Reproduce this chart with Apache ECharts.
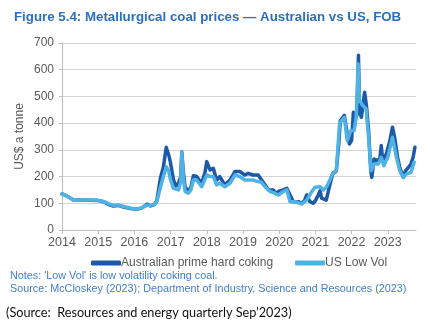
<!DOCTYPE html>
<html>
<head>
<meta charset="utf-8">
<script src="https://cdn.jsdelivr.net/npm/echarts@6/dist/echarts.min.js"></script>
<style>
  html, body { margin: 0; padding: 0; background: #ffffff; }
  #chart { width: 430px; height: 326px; }
</style>
</head>
<body>
<div id="chart"></div>
<script>
// Metallurgical coal prices, US$ a tonne, FOB (time in decimal years)
const ausYears = [
  2014.00, 2014.10, 2014.20, 2014.30, 2014.50, 2014.75, 2015.00, 2015.15, 2015.30, 2015.40,
  2015.55, 2015.70, 2015.90, 2016.05, 2016.20, 2016.35, 2016.45, 2016.55, 2016.62, 2016.68,
  2016.72, 2016.80, 2016.88, 2016.95, 2017.00, 2017.08, 2017.15, 2017.22, 2017.28, 2017.31,
  2017.35, 2017.40, 2017.49, 2017.56, 2017.63, 2017.72, 2017.80, 2017.86, 2017.95, 2018.00,
  2018.05, 2018.09, 2018.18, 2018.27, 2018.36, 2018.50, 2018.64, 2018.78, 2018.91, 2019.05,
  2019.14, 2019.28, 2019.42, 2019.50, 2019.61, 2019.70, 2019.75, 2019.84, 2019.90, 2019.98,
  2020.11, 2020.21, 2020.30, 2020.39, 2020.53, 2020.62, 2020.70, 2020.76, 2020.85, 2020.94,
  2021.00, 2021.08, 2021.13, 2021.17, 2021.30, 2021.40, 2021.48, 2021.58, 2021.65, 2021.69,
  2021.80, 2021.88, 2021.94, 2022.00, 2022.05, 2022.10, 2022.15, 2022.19, 2022.22, 2022.27,
  2022.31, 2022.36, 2022.41, 2022.47, 2022.53, 2022.56, 2022.62, 2022.69, 2022.78, 2022.82,
  2022.86, 2022.96, 2023.06, 2023.13, 2023.19, 2023.27, 2023.33, 2023.43, 2023.49, 2023.56,
  2023.64, 2023.70, 2023.75
];
const ausPrices = [
  135, 130, 122, 113, 112, 111, 110, 106, 95, 90,
  92, 86, 80, 78, 82, 97, 90, 95, 110, 160,
  195, 235, 310, 280, 250, 187, 165, 175, 200, 292,
  220, 162, 144, 160, 203, 200, 185, 175, 215, 256,
  250, 225, 231, 187, 200, 169, 187, 219, 219, 206,
  212, 206, 206, 190, 169, 150, 144, 150, 137, 144,
  150, 156, 131, 106, 106, 100, 110, 131, 106, 100,
  110, 131, 147, 119, 112, 169, 210, 222, 330, 410,
  429, 360, 322, 335, 441, 447, 429, 654, 447, 422,
  460, 516, 466, 372, 222, 197, 266, 260, 266, 316,
  260, 285, 335, 385, 347, 272, 235, 197, 222, 232,
  247, 272, 310
];

const usYears = [
  2014.00, 2014.10, 2014.20, 2014.30, 2014.50, 2014.75, 2015.00, 2015.15, 2015.30, 2015.40,
  2015.55, 2015.70, 2015.90, 2016.05, 2016.20, 2016.35, 2016.45, 2016.55, 2016.62, 2016.70,
  2016.80, 2016.88, 2016.95, 2017.00, 2017.08, 2017.22, 2017.28, 2017.31, 2017.35, 2017.40,
  2017.49, 2017.56, 2017.63, 2017.72, 2017.86, 2018.00, 2018.09, 2018.18, 2018.27, 2018.36,
  2018.50, 2018.64, 2018.78, 2018.91, 2019.05, 2019.14, 2019.28, 2019.42, 2019.50, 2019.61,
  2019.75, 2019.84, 2019.98, 2020.11, 2020.21, 2020.30, 2020.45, 2020.62, 2020.76, 2020.90,
  2020.99, 2021.13, 2021.22, 2021.31, 2021.40, 2021.48, 2021.58, 2021.67, 2021.80, 2021.88,
  2021.98, 2022.07, 2022.13, 2022.18, 2022.22, 2022.31, 2022.40, 2022.47, 2022.54, 2022.62,
  2022.74, 2022.82, 2022.89, 2023.00, 2023.13, 2023.24, 2023.33, 2023.43, 2023.52, 2023.64,
  2023.73
];
const usPrices = [
  135, 130, 122, 113, 112, 112, 111, 107, 98, 93,
  94, 88, 82, 78, 83, 93, 92, 96, 105, 150,
  200, 237, 220, 187, 156, 150, 180, 290, 200, 144,
  138, 150, 187, 187, 162, 206, 200, 200, 169, 175,
  162, 175, 206, 200, 187, 187, 187, 181, 180, 162,
  144, 140, 131, 144, 150, 106, 106, 97, 112, 144,
  160, 162, 150, 162, 187, 212, 225, 400, 422, 335,
  372, 372, 422, 622, 485, 466, 454, 347, 222, 247,
  247, 272, 241, 272, 347, 272, 222, 197, 210, 216,
  254
];

const seriesNames = ['Australian prime hard coking', 'US Low Vol'];
const yearTicks = [2014, 2015, 2016, 2017, 2018, 2019, 2020, 2021, 2022, 2023];

const FONT = '"Liberation Sans", Arial, sans-serif';
const AXIS_GREY = '#595959';
const DARK_BLUE = '#1c59a8';
const LIGHT_BLUE = '#4fb2e4';

function pairs(xs, ys) {
  return xs.map((x, i) => [x, ys[i]]);
}

const chart = echarts.init(document.getElementById('chart'), null, { renderer: 'canvas' });

chart.setOption({
  backgroundColor: '#ffffff',
  animation: false,
  title: {
    text: 'Figure 5.4: Metallurgical coal prices \u2014 Australian vs US, FOB',
    left: 9,
    top: 6,
    textStyle: {
      fontFamily: FONT,
      fontSize: 13.3,
      fontWeight: 'bold',
      color: '#2a70c2'
    }
  },
  grid: { left: 62, right: 14, top: 43, bottom: 96 },
  legend: {
    data: seriesNames,
    left: 86,
    top: 252,
    icon: 'roundRect',
    itemWidth: 30,
    itemHeight: 5,
    itemGap: 22,
    textStyle: { fontFamily: FONT, fontSize: 12, color: AXIS_GREY, padding: [0, 0, 0, -5] }
  },
  xAxis: {
    type: 'value',
    min: yearTicks[0],
    max: 2023.78,
    interval: 1,
    axisLine: { lineStyle: { color: '#bfbfbf' } },
    axisTick: { show: true, length: 4, lineStyle: { color: '#bfbfbf' } },
    splitLine: { show: false },
    axisLabel: {
      showMaxLabel: false,
      fontFamily: FONT,
      fontSize: 12.5,
      color: AXIS_GREY,
      margin: 6,
      formatter: v => (yearTicks.indexOf(v) >= 0 ? String(v) : '')
    }
  },
  yAxis: {
    type: 'value',
    min: 0,
    max: 700,
    interval: 100,
    name: 'US$ a tonne',
    nameLocation: 'middle',
    nameGap: 36,
    nameMoveOverlap: false,
    nameTextStyle: { fontFamily: FONT, fontSize: 12, color: AXIS_GREY },
    axisLine: { show: true, lineStyle: { color: '#bfbfbf' } },
    axisTick: { show: true, length: 3, lineStyle: { color: '#bfbfbf' } },
    splitLine: { lineStyle: { color: '#d4d4d4', width: 1 } },
    axisLabel: { fontFamily: FONT, fontSize: 12, color: AXIS_GREY, margin: 8 }
  },
  series: [
    {
      name: seriesNames[0],
      type: 'line',
      data: pairs(ausYears, ausPrices),
      showSymbol: false,
      symbol: 'none',
      lineStyle: { color: DARK_BLUE, width: 3.5, join: 'round', cap: 'round' },
      itemStyle: { color: DARK_BLUE },
      z: 2
    },
    {
      name: seriesNames[1],
      type: 'line',
      data: pairs(usYears, usPrices),
      showSymbol: false,
      symbol: 'none',
      lineStyle: { color: LIGHT_BLUE, width: 3.5, join: 'round', cap: 'round' },
      itemStyle: { color: LIGHT_BLUE },
      z: 3
    }
  ],
  graphic: [
    {
      type: 'text',
      left: 10,
      top: 271,
      style: {
        text: "Notes: 'Low Vol' is low volatility coking coal.",
        fontFamily: FONT,
        fontSize: 10.8,
        fill: '#3f7fcb'
      }
    },
    {
      type: 'text',
      left: 10,
      top: 284,
      style: {
        text: 'Source: McCloskey (2023); Department of Industry, Science and Resources (2023)',
        fontFamily: FONT,
        fontSize: 10.8,
        fill: '#3f7fcb'
      }
    },
    {
      type: 'text',
      left: 6,
      top: 306,
      style: {
        text: '(Source:  Resources and energy quarterly Sep\u20192023)',
        fontFamily: 'Lato, "Open Sans", sans-serif',
        fontSize: 12.7,
        fill: '#111111'
      }
    }
  ]
});
</script>
</body>
</html>
